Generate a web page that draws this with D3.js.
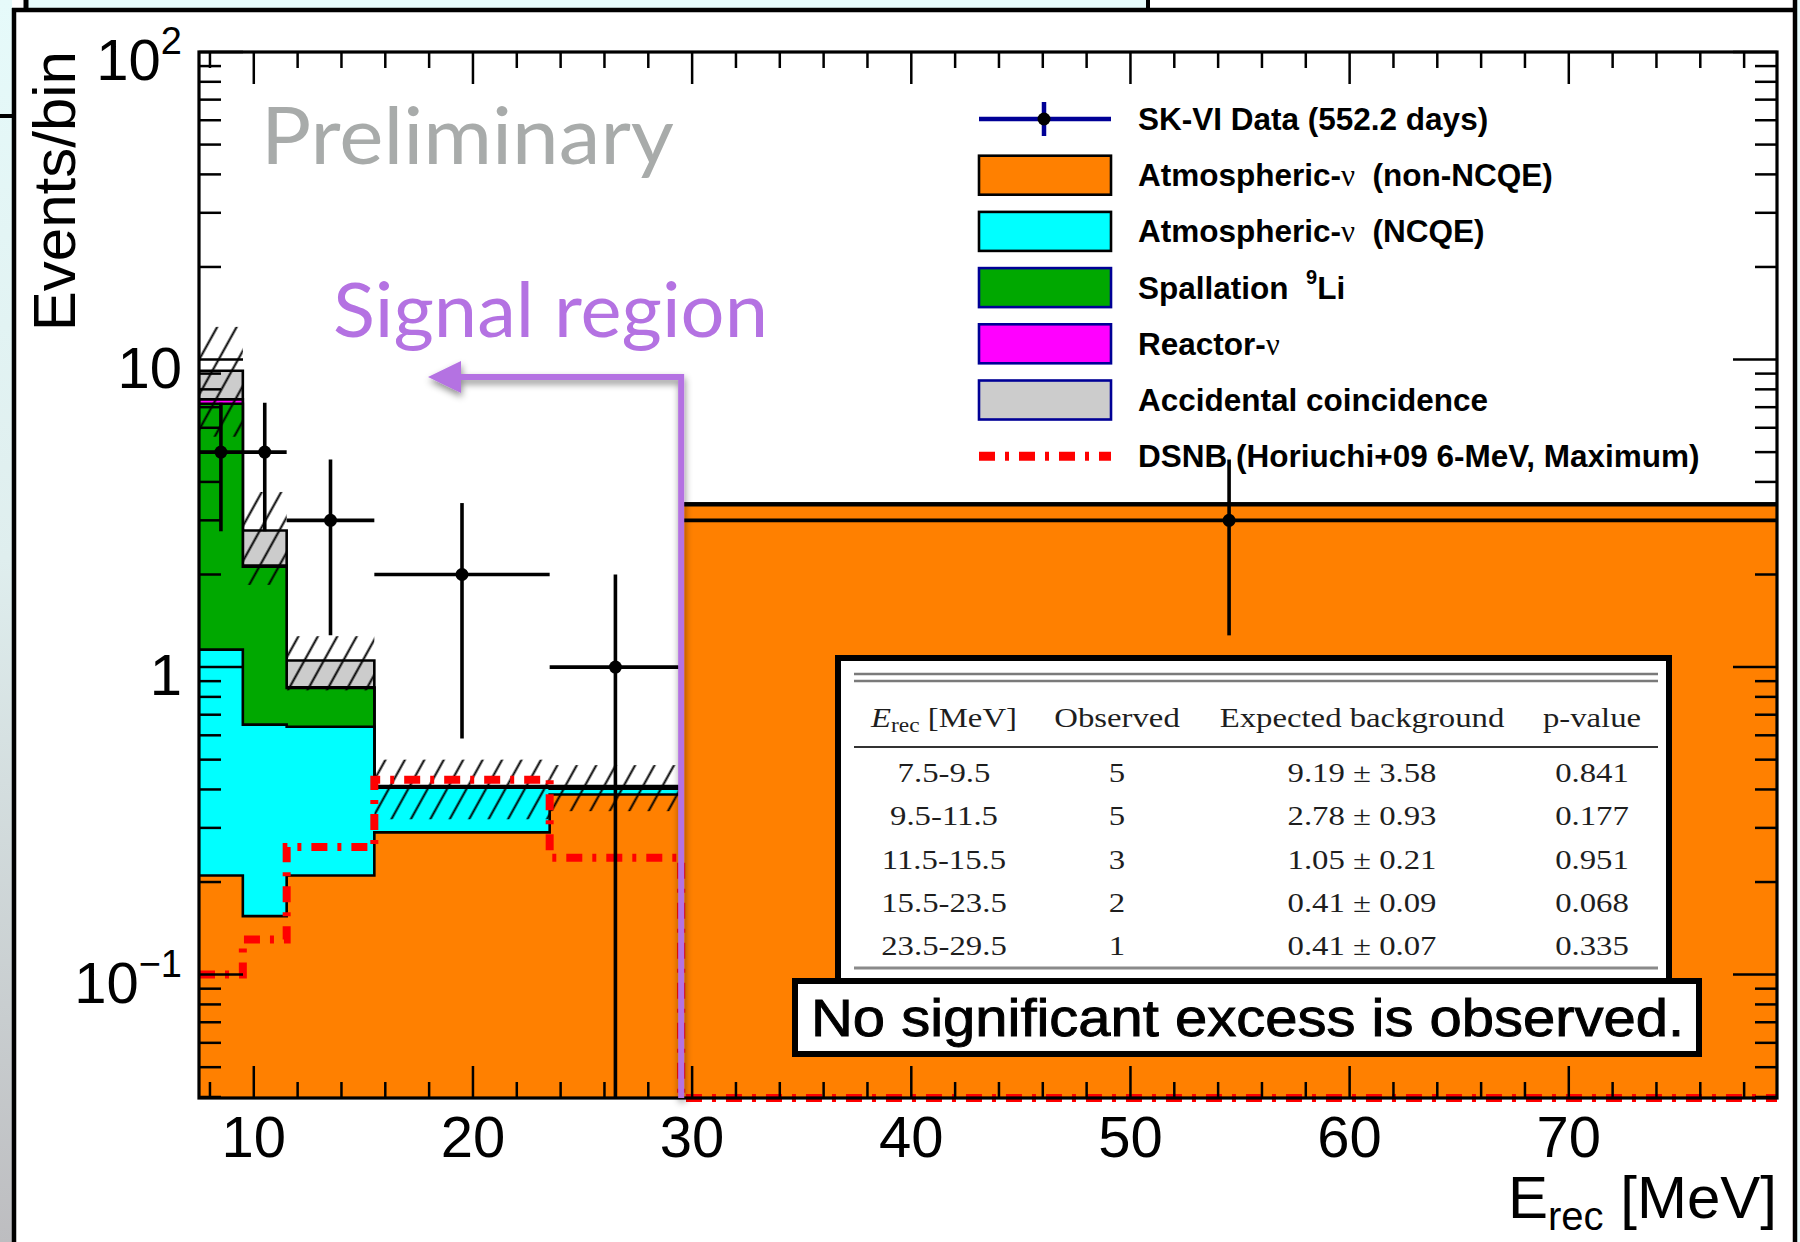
<!DOCTYPE html>
<html>
<head>
<meta charset="utf-8">
<script src="https://cdn.jsdelivr.net/npm/d3@7"></script>
<style>
  body { margin: 0; background: #fff; }
  svg { display: block; }
</style>
</head>
<body>
<svg id="chart" width="1800" height="1242"></svg>
<script>
// ---------------- data ----------------
// energy bin edges (MeV)
const binEdges = [7.5, 9.5, 11.5, 15.5, 23.5, 29.5, 79.5];
// background components per bin (events/bin)
const atmNonNCQE    = [0.21, 0.155, 0.21, 0.29, 0.385, 3.36];
const atmNCQE       = [0.93, 0.495, 0.43, 0.115, 0.017, 0.03];
const spallationLi9 = [6.04, 1.47, 0.215, 0.003, 0.003, 0.005];
const reactorNu     = [0.24, 0.02, 0.005, 0.001, 0.001, 0.0];
const accidental    = [1.77, 0.64, 0.19, 0.001, 0.004, 0.005];
// observed events
const observed = [5, 5, 3, 2, 1, 3];
// systematic uncertainty on the total background (signal-region bins)
const bkgError = [3.58, 0.93, 0.21, 0.09, 0.07];
// DSNB expectation (Horiuchi+09 6-MeV, maximum)
const dsnb = [0.10, 0.13, 0.26, 0.43, 0.24, 0.0];

// summary table
const tableRanges   = ["7.5-9.5", "9.5-11.5", "11.5-15.5", "15.5-23.5", "23.5-29.5"];
const tableObserved = [5, 5, 3, 2, 1];
const tableExpected = [9.19, 2.78, 1.05, 0.41, 0.41];
const tableError    = [3.58, 0.93, 0.21, 0.09, 0.07];
const tablePValue   = ["0.841", "0.177", "0.951", "0.068", "0.335"];

// axis ticks
const xMajorTicks = [10, 20, 30, 40, 50, 60, 70];
const xMinorTicks = d3.range(8, 80, 2).filter(v => v % 10 !== 0);
const yMajorTicks = [0.1, 1, 10, 100];
const yMinorTicks = [0.04, 0.05, 0.06, 0.07, 0.08, 0.09,
                     0.2, 0.3, 0.4, 0.5, 0.6, 0.7, 0.8, 0.9,
                     2, 3, 4, 5, 6, 7, 8, 9,
                     20, 30, 40, 50, 60, 70, 80, 90];
const yTickLabels = [
  { v: 100, base: "10", sup: "2" },
  { v: 10,  base: "10", sup: "" },
  { v: 1,   base: "1",  sup: "" },
  { v: 0.1, base: "10", sup: "\u22121" }
];
const signalEdge = 29.5;

// ---------------- setup ----------------
const svg = d3.select("#chart");
const plot = { left: 199, right: 1777, top: 52, bottom: 1098 };
const yMin = 0.0397;
const x = d3.scaleLinear().domain([7.5, 79.5]).range([plot.left, plot.right]);
const y = d3.scaleLog().domain([yMin, 100]).range([plot.bottom, plot.top]);

const colors = {
  orange: "#ff8000", cyan: "#00ffff", green: "#00a800",
  magenta: "#ff00ff", gray: "#cccccc", dsnb: "#ff0000",
  navy: "#000096", purple: "#b472e2", prelim: "#a8abaa"
};
const rootFont = "'Liberation Sans', Arial, Helvetica, sans-serif";

const defs = svg.append("defs");
const lg = defs.append("linearGradient").attr("id", "edgeGrad")
  .attr("x1", 0).attr("y1", 0).attr("x2", 0).attr("y2", 1);
lg.append("stop").attr("offset", "0%").attr("stop-color", "#e6fafa");
lg.append("stop").attr("offset", "45%").attr("stop-color", "#dfeeee");
lg.append("stop").attr("offset", "100%").attr("stop-color", "#bdbdc0");

defs.append("clipPath").attr("id", "plotClip")
  .append("rect").attr("x", plot.left).attr("y", plot.top)
  .attr("width", plot.right - plot.left).attr("height", plot.bottom - plot.top);

// diagonal hatching for the background uncertainty band
const hatchSpacing = 17;
const hatch = defs.append("pattern").attr("id", "hatch")
  .attr("patternUnits", "userSpaceOnUse")
  .attr("width", hatchSpacing).attr("height", 10)
  .attr("patternTransform", "rotate(29)");
hatch.append("rect").attr("x", hatchSpacing / 2 - 1).attr("y", 0)
  .attr("width", 2).attr("height", 10).attr("fill", "#000");

const shadow = defs.append("filter").attr("id", "arrowShadow")
  .attr("x", "-20%").attr("y", "-20%").attr("width", "140%").attr("height", "140%");
shadow.append("feDropShadow").attr("dx", 1).attr("dy", 4).attr("stdDeviation", 3.5)
  .attr("flood-color", "#000").attr("flood-opacity", 0.45);

// ---------------- slide frame ----------------
const frame = svg.append("g");
frame.append("rect").attr("x", 0).attr("y", 0).attr("width", 12).attr("height", 1242)
  .attr("fill", "url(#edgeGrad)");
frame.append("rect").attr("x", 28).attr("y", 0).attr("width", 1120).attr("height", 9)
  .attr("fill", "#e6fbfb");
frame.append("rect").attr("x", 1797).attr("y", 0).attr("width", 3).attr("height", 1242)
  .attr("fill", "#e6fbfb");
frame.append("line").attr("x1", 26).attr("x2", 26).attr("y1", 0).attr("y2", 10)
  .attr("stroke", "#000").attr("stroke-width", 5);
frame.append("line").attr("x1", 1148).attr("x2", 1148).attr("y1", 0).attr("y2", 10)
  .attr("stroke", "#000").attr("stroke-width", 4);
frame.append("line").attr("x1", 12).attr("x2", 1797).attr("y1", 10).attr("y2", 10)
  .attr("stroke", "#000").attr("stroke-width", 4.5);
frame.append("line").attr("x1", 14).attr("x2", 14).attr("y1", 8).attr("y2", 1242)
  .attr("stroke", "#000").attr("stroke-width", 4.5);
frame.append("line").attr("x1", 1795).attr("x2", 1795).attr("y1", 0).attr("y2", 1242)
  .attr("stroke", "#000").attr("stroke-width", 4.5);
frame.append("line").attr("x1", 0).attr("x2", 12).attr("y1", 116).attr("y2", 116)
  .attr("stroke", "#000").attr("stroke-width", 4);

// ---------------- stacked backgrounds ----------------
const nBins = binEdges.length - 1;
const components = [atmNonNCQE, atmNCQE, spallationLi9, reactorNu, accidental];
const compColors = [colors.orange, colors.cyan, colors.green, colors.magenta, colors.gray];
const cumulative = [];
components.forEach((arr, k) => {
  cumulative.push(arr.map((v, i) => v + (k > 0 ? cumulative[k - 1][i] : 0)));
});
const stepPoints = vals => binEdges.map((e, i) => ({ e, v: vals[Math.min(i, nBins - 1)] }));

const area = d3.area().curve(d3.curveStepAfter)
  .x(d => x(d.e)).y0(plot.bottom).y1(d => y(Math.max(d.v, yMin)));
const stepLine = d3.line().curve(d3.curveStepAfter)
  .x(d => x(d.e)).y(d => y(Math.max(d.v, yMin)));

const histG = svg.append("g").attr("clip-path", "url(#plotClip)");
for (let k = components.length - 1; k >= 0; k--) {
  const pts = stepPoints(cumulative[k]);
  histG.append("path").attr("d", area(pts)).attr("fill", compColors[k]);
  histG.append("path").attr("d", stepLine(pts)).attr("fill", "none")
    .attr("stroke", "#000").attr("stroke-width", 2.6);
}

// uncertainty band on total background
const total = cumulative[cumulative.length - 1];
histG.selectAll("rect.band").data(bkgError).join("rect").attr("class", "band")
  .attr("x", (d, i) => x(binEdges[i]))
  .attr("width", (d, i) => x(binEdges[i + 1]) - x(binEdges[i]))
  .attr("y", (d, i) => y(total[i] + d))
  .attr("height", (d, i) => y(Math.max(total[i] - d, yMin)) - y(total[i] + d))
  .attr("fill", "url(#hatch)");

// ---------------- DSNB expectation ----------------
svg.append("path").attr("d", stepLine(stepPoints(dsnb)))
  .attr("fill", "none").attr("stroke", colors.dsnb).attr("stroke-width", 8)
  .attr("stroke-dasharray", "16,10,4,10");

// ---------------- data points ----------------
const dataG = svg.append("g").attr("clip-path", "url(#plotClip)");
observed.forEach((n, i) => {
  const xc = x((binEdges[i] + binEdges[i + 1]) / 2);
  const err = Math.sqrt(n);
  const lo = n - err;
  dataG.append("line").attr("x1", x(binEdges[i])).attr("x2", x(binEdges[i + 1]))
    .attr("y1", y(n)).attr("y2", y(n)).attr("stroke", "#000").attr("stroke-width", 3.6);
  dataG.append("line").attr("x1", xc).attr("x2", xc)
    .attr("y1", y(n + err)).attr("y2", lo > yMin ? y(lo) : plot.bottom)
    .attr("stroke", "#000").attr("stroke-width", 3.6);
  dataG.append("circle").attr("cx", xc).attr("cy", y(n)).attr("r", 6.5).attr("fill", "#000");
});

// ---------------- axes (ROOT style, ticks inside on all four sides) ----------------
const axG = svg.append("g").attr("stroke", "#000");
const tick = (x1, y1, x2, y2, w) => axG.append("line")
  .attr("x1", x1).attr("y1", y1).attr("x2", x2).attr("y2", y2).attr("stroke-width", w);
xMajorTicks.forEach(v => {
  tick(x(v), plot.bottom, x(v), plot.bottom - 32, 2.5);
  tick(x(v), plot.top, x(v), plot.top + 32, 2.5);
});
xMinorTicks.forEach(v => {
  tick(x(v), plot.bottom, x(v), plot.bottom - 16, 2.5);
  tick(x(v), plot.top, x(v), plot.top + 16, 2.5);
});
yMajorTicks.forEach(v => {
  tick(plot.left, y(v), plot.left + 44, y(v), 2.5);
  tick(plot.right, y(v), plot.right - 44, y(v), 2.5);
});
yMinorTicks.forEach(v => {
  tick(plot.left, y(v), plot.left + 22, y(v), 2.5);
  tick(plot.right, y(v), plot.right - 22, y(v), 2.5);
});
axG.append("rect").attr("x", plot.left).attr("y", plot.top)
  .attr("width", plot.right - plot.left).attr("height", plot.bottom - plot.top)
  .attr("fill", "none").attr("stroke-width", 3.2);

// tick labels
svg.append("g").selectAll("text").data(xMajorTicks).join("text")
  .attr("x", d => x(d)).attr("y", 1157).attr("text-anchor", "middle")
  .attr("font-family", rootFont).attr("font-size", 58).text(d => d);

const yl = svg.append("g").selectAll("text").data(yTickLabels).join("text")
  .attr("x", 182).attr("y", d => y(d.v) + 28).attr("text-anchor", "end")
  .attr("font-family", rootFont).attr("font-size", 58);
yl.append("tspan").text(d => d.base);
yl.filter(d => d.sup).append("tspan").attr("font-size", 38).attr("dy", -26).text(d => d.sup);

// axis titles
svg.append("text").attr("transform", "translate(75,51) rotate(-90)")
  .attr("text-anchor", "end").attr("font-family", rootFont).attr("font-size", 60)
  .text("Events/bin");
const xt = svg.append("text").attr("x", plot.right).attr("y", 1218).attr("text-anchor", "end")
  .attr("font-family", rootFont).attr("font-size", 60);
xt.append("tspan").text("E");
xt.append("tspan").attr("font-size", 40).attr("dy", 12).text("rec");
xt.append("tspan").attr("dy", -12).text(" [MeV]");

// ---------------- legend ----------------
const legendItems = [
  { type: "data", label: ["SK-VI Data (552.2 days)"] },
  { type: "box", fill: colors.orange, stroke: "#000", label: ["Atmospheric-", "\u03bd", "  (non-NCQE)"] },
  { type: "box", fill: colors.cyan, stroke: "#000", label: ["Atmospheric-", "\u03bd", "  (NCQE)"] },
  { type: "box", fill: colors.green, stroke: colors.navy, label: ["Spallation  ", "^9", "Li"] },
  { type: "box", fill: colors.magenta, stroke: colors.navy, label: ["Reactor-", "\u03bd"] },
  { type: "box", fill: colors.gray, stroke: colors.navy, label: ["Accidental coincidence"] },
  { type: "line", label: ["DSNB (Horiuchi+09 6-MeV, Maximum)"] }
];
const legG = svg.append("g");
const legX = 979, legW = 132, textX = 1138;
legendItems.forEach((it, i) => {
  const cy = 119 + i * 56.2;
  if (it.type === "data") {
    legG.append("line").attr("x1", legX).attr("x2", legX + legW).attr("y1", cy).attr("y2", cy)
      .attr("stroke", colors.navy).attr("stroke-width", 4.5);
    legG.append("line").attr("x1", legX + 65).attr("x2", legX + 65).attr("y1", cy - 17).attr("y2", cy + 17)
      .attr("stroke", colors.navy).attr("stroke-width", 4.5);
    legG.append("circle").attr("cx", legX + 65).attr("cy", cy).attr("r", 6.5).attr("fill", "#000");
  } else if (it.type === "box") {
    legG.append("rect").attr("x", legX).attr("y", cy - 19.5).attr("width", legW).attr("height", 39)
      .attr("fill", it.fill).attr("stroke", it.stroke).attr("stroke-width", 2.6);
  } else {
    legG.append("line").attr("x1", legX).attr("x2", legX + legW).attr("y1", cy).attr("y2", cy)
      .attr("stroke", colors.dsnb).attr("stroke-width", 9).attr("stroke-dasharray", "16,10,4,10");
  }
  const t = legG.append("text").attr("x", textX).attr("y", cy + 11)
    .attr("font-family", rootFont).attr("font-weight", "bold").attr("font-size", 31.5)
    .attr("xml:space", "preserve").style("white-space", "pre");
  let raised = false;
  it.label.forEach(part => {
    if (part === "\u03bd") {
      t.append("tspan").attr("font-family", "'Liberation Serif', 'Times New Roman', serif")
        .attr("font-weight", "normal").attr("font-size", 31).text(part);
    } else if (part.startsWith("^")) {
      t.append("tspan").attr("font-size", 20).attr("dy", -15).text(part.slice(1));
      raised = true;
    } else {
      const sp = t.append("tspan").text(part);
      if (raised) { sp.attr("dy", 15); raised = false; }
    }
  });
});

// ---------------- annotations ----------------
svg.append("text").attr("x", 261).attr("y", 164)
  .attr("font-family", "Lato, 'Open Sans', sans-serif").attr("font-size", 80)
  .attr("fill", colors.prelim).attr("textLength", 413).attr("lengthAdjust", "spacingAndGlyphs")
  .text("Preliminary");
svg.append("text").attr("x", 333).attr("y", 337)
  .attr("font-family", "Lato, 'Open Sans', sans-serif").attr("font-size", 75)
  .attr("fill", colors.purple).attr("textLength", 435).attr("lengthAdjust", "spacingAndGlyphs")
  .text("Signal region");

// arrow marking the signal region boundary
const arrowY = 377, tipX = 428;
const arrG = svg.append("g").attr("filter", "url(#arrowShadow)");
arrG.append("path")
  .attr("d", `M${x(signalEdge)},${plot.bottom} V${arrowY} H${tipX + 28}`)
  .attr("fill", "none").attr("stroke", colors.purple).attr("stroke-width", 6)
  .attr("stroke-linejoin", "miter");
arrG.append("path")
  .attr("d", `M${tipX},${arrowY} L${tipX + 33},${arrowY - 16} L${tipX + 33},${arrowY + 16} Z`)
  .attr("fill", colors.purple);

// ---------------- summary table ----------------
const tabG = svg.append("g");
tabG.append("rect").attr("x", 838).attr("y", 658).attr("width", 831).attr("height", 335)
  .attr("fill", "#fff").attr("stroke", "#000").attr("stroke-width", 6);
const rule = (yy, w, c) => tabG.append("line").attr("x1", 854).attr("x2", 1658)
  .attr("y1", yy).attr("y2", yy).attr("stroke", c).attr("stroke-width", w);
rule(674, 2.6, "#7a7a7a");
rule(681, 2.6, "#7a7a7a");
rule(747, 2.2, "#333");
rule(968, 3.2, "#8a8a8a");

const colX = [944, 1117, 1362, 1592];
const serif = "'Liberation Serif', 'Times New Roman', serif";
const cell = (cx, by) => tabG.append("text")
  .attr("transform", `translate(${cx},${by}) scale(1.17,1)`)
  .attr("text-anchor", "middle").attr("font-family", serif).attr("font-size", 28)
  .attr("fill", "#1e1e1e");
const h0 = cell(colX[0], 727);
h0.append("tspan").attr("font-style", "italic").text("E");
h0.append("tspan").attr("font-size", 20).attr("dy", 5).text("rec");
h0.append("tspan").attr("dy", -5).text(" [MeV]");
cell(colX[1], 727).text("Observed");
cell(colX[2], 727).text("Expected background");
cell(colX[3], 727).text("p-value");
tableRanges.forEach((r, i) => {
  const by = 782 + i * 43.3;
  cell(colX[0], by).text(r);
  cell(colX[1], by).text(tableObserved[i]);
  cell(colX[2], by).text(`${tableExpected[i].toFixed(2)} \u00b1 ${tableError[i].toFixed(2)}`);
  cell(colX[3], by).text(tablePValue[i]);
});

// conclusion box
const noteG = svg.append("g");
noteG.append("rect").attr("x", 795).attr("y", 981).attr("width", 904).attr("height", 73)
  .attr("fill", "#fff").attr("stroke", "#000").attr("stroke-width", 6);
noteG.append("text").attr("x", 811).attr("y", 1036)
  .attr("font-family", "'Liberation Sans', Arial, Helvetica, sans-serif")
  .attr("font-size", 51).attr("textLength", 873).attr("lengthAdjust", "spacingAndGlyphs")
  .attr("stroke", "#000").attr("stroke-width", 0.9)
  .text("No significant excess is observed.");
</script>
</body>
</html>
